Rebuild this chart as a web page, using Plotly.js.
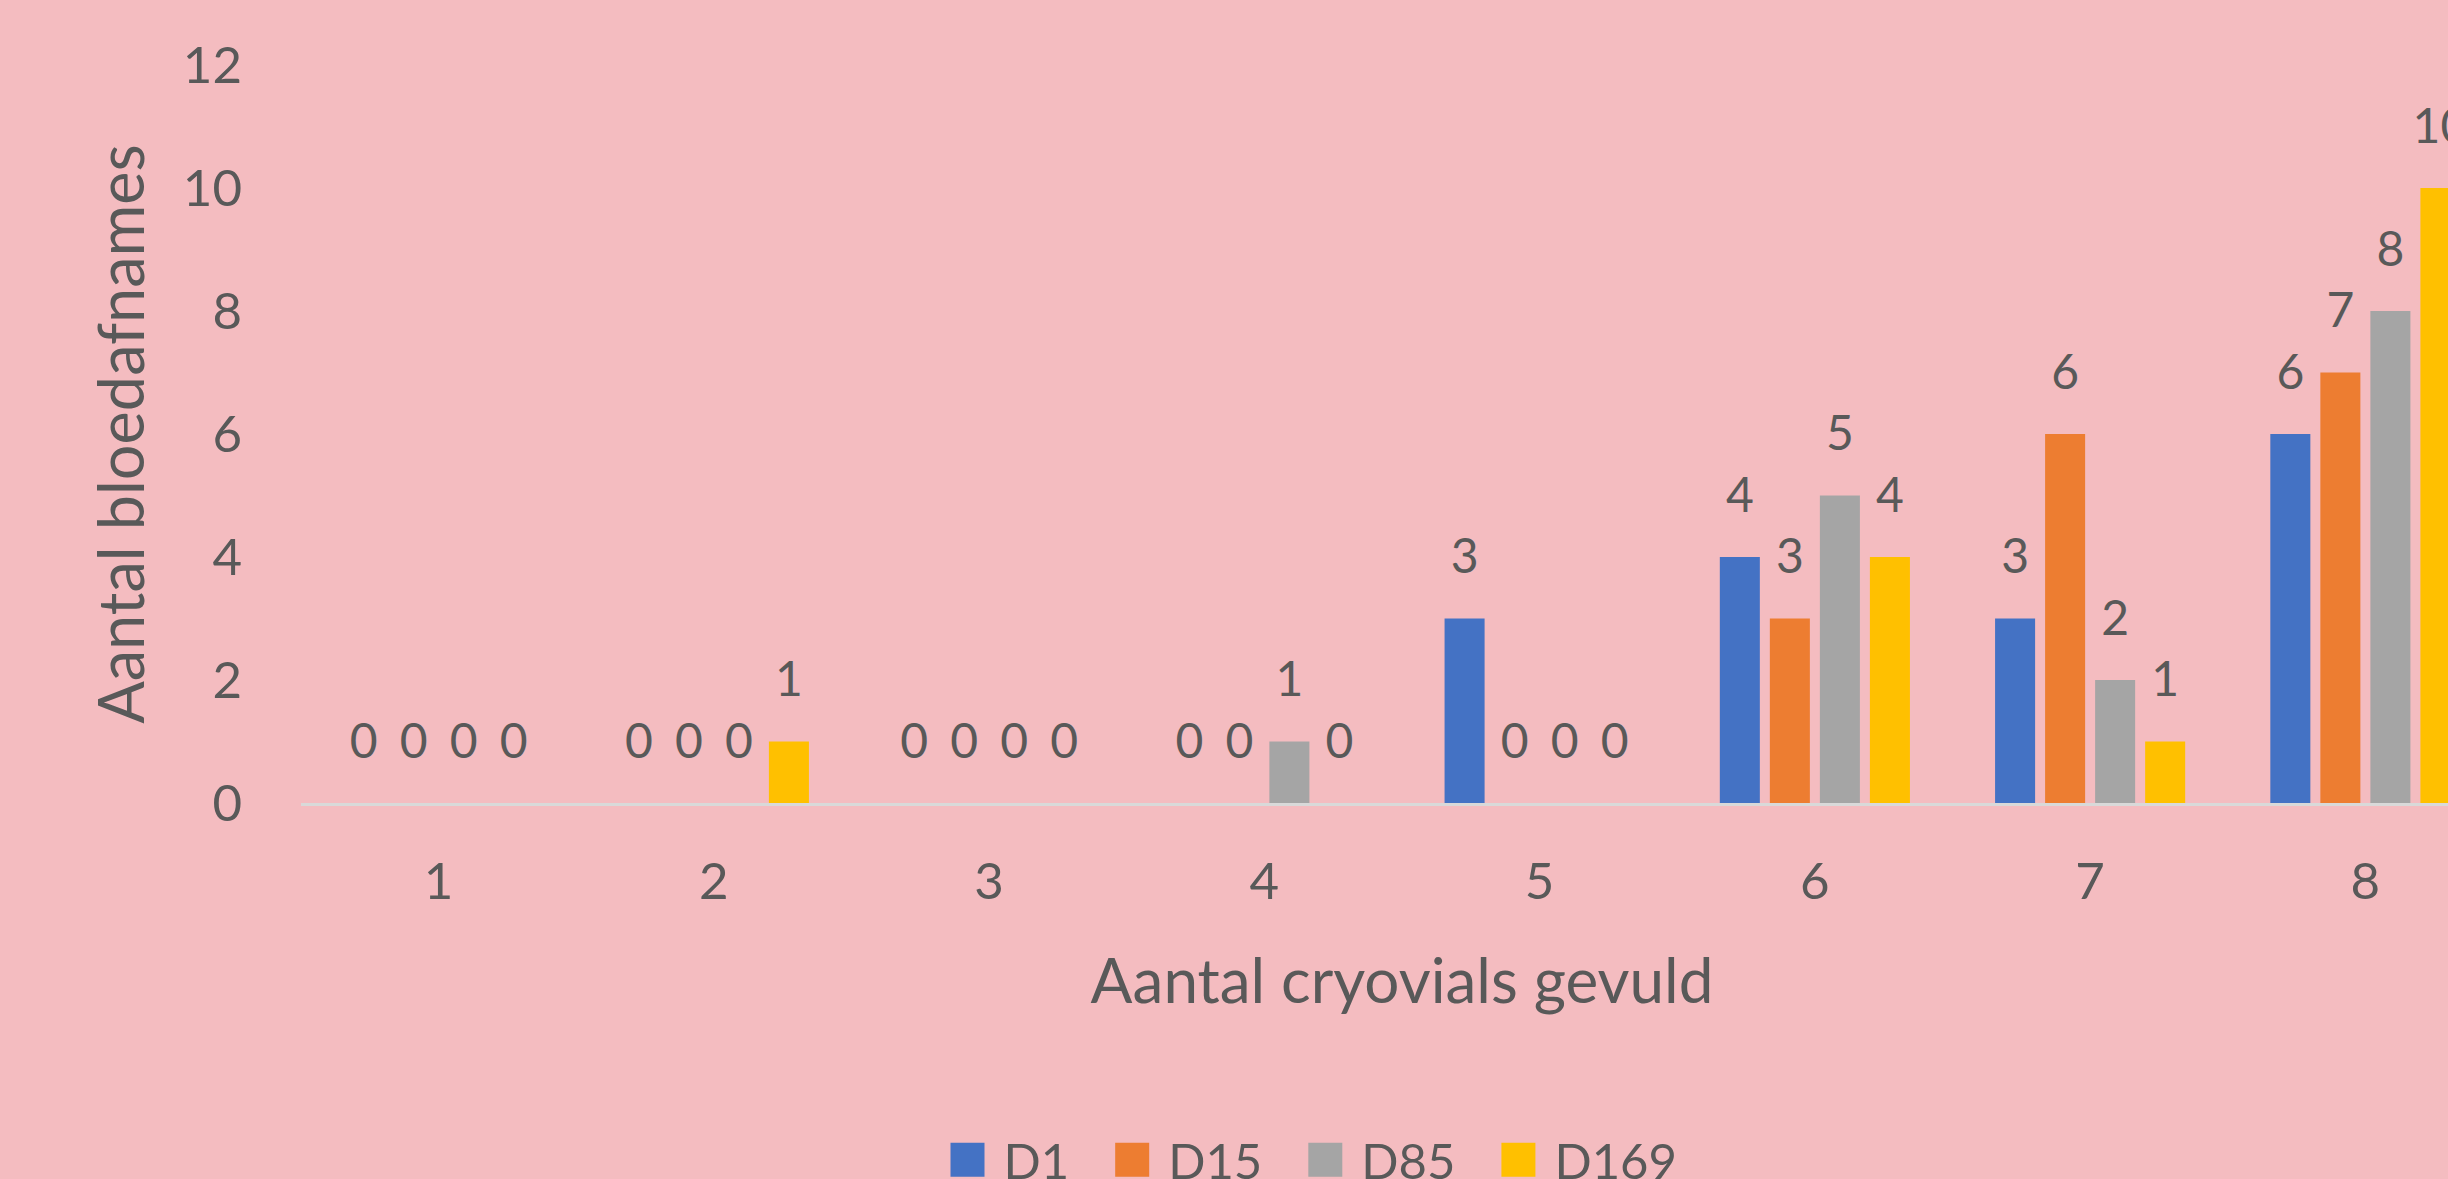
<!DOCTYPE html>
<html>
<head>
<meta charset="utf-8">
<script src="https://cdn.plot.ly/plotly-3.0.1.min.js"></script>
<style>
html, body { margin: 0; padding: 0; overflow: hidden; background: #F4BCC0; }
#chart { width: 2592px; height: 1230px; }
</style>
</head>
<body>
<div id="chart"></div>
<script>
// Data
var categories = ['1', '2', '3', '4', '5', '6', '7', '8'];
var seriesNames = ['D1', 'D15', 'D85', 'D169'];
var valuesD1   = [0, 0, 0, 0, 3, 4, 3, 6];
var valuesD15  = [0, 0, 0, 0, 0, 3, 6, 7];
var valuesD85  = [0, 0, 0, 1, 0, 5, 2, 8];
var valuesD169 = [0, 1, 0, 0, 0, 4, 1, 10];
var yTicks = [0, 2, 4, 6, 8, 10, 12];

var colors = ['#4472C4', '#ED7D31', '#A5A5A5', '#FFC000'];
var allValues = [valuesD1, valuesD15, valuesD85, valuesD169];
var textColor = '#595959';
var fontFamily = 'Lato, "Open Sans", sans-serif';

var traces = allValues.map(function (vals, i) {
  return {
    type: 'bar',
    name: seriesNames[i],
    x: categories,
    y: vals,
    marker: { color: colors[i] },
    // second (blank) line lifts the label above the bar like the original
    texttemplate: '<span style="font-size:48px">%{y}</span><br>\u00a0',
    textposition: 'outside',
    constraintext: 'none',
    cliponaxis: false,
    textfont: { family: fontFamily, size: 28, color: textColor },
    hoverinfo: 'x+y+name'
  };
});

var layout = {
  width: 2592,
  height: 1230,
  paper_bgcolor: '#F4BCC0',
  plot_bgcolor: '#F4BCC0',
  margin: { l: 301, r: 89, t: 65, b: 427, pad: 0 },
  font: { family: fontFamily, color: textColor },
  barmode: 'group',
  bargap: 0.273,
  bargroupgap: 0.2,
  xaxis: {
    type: 'category',
    showgrid: false,
    zeroline: false,
    showline: true,
    linecolor: '#D9D9D9',
    linewidth: 3,
    ticks: '',
    tickfont: { family: fontFamily, size: 51, color: textColor },
    ticklabelstandoff: 32,
    title: { text: 'Aantal cryovials gevuld', font: { family: fontFamily, size: 62, color: textColor }, standoff: 51 },
    automargin: false
  },
  yaxis: {
    range: [0, 12],
    tickvals: yTicks,
    ticktext: yTicks.map(String),
    showgrid: false,
    zeroline: false,
    showline: false,
    ticks: '',
    tickfont: { family: fontFamily, size: 51, color: textColor },
    ticklabelstandoff: 58,
    title: { text: 'Aantal bloedafnames', font: { family: fontFamily, size: 63, color: textColor }, standoff: 17 },
    automargin: false
  },
  showlegend: true,
  legend: {
    orientation: 'h',
    xref: 'container',
    yref: 'container',
    x: 0.5,
    xanchor: 'center',
    y: 0.057,
    yanchor: 'middle',
    itemwidth: 84,
    font: { family: fontFamily, size: 49, color: textColor },
    bgcolor: 'rgba(0,0,0,0)',
    traceorder: 'normal'
  }
};

function enlargeLegendSymbols() {
  var items = document.querySelectorAll('#chart g.legend g.traces');
  items.forEach(function (item) {
    var txt = item.querySelector('text.legendtext');
    var paths = item.querySelectorAll('g.legendpoints path');
    if (!txt || !paths.length) return;
    var tx = parseFloat(txt.getAttribute('x')) || 0;
    paths.forEach(function (p) {
      p.removeAttribute('transform');
      var x0 = tx - 19 - 34;
      p.setAttribute('d', 'M' + x0 + ',-17h34v34h-34Z');
      p.style.strokeWidth = '0px';
    });
  });
}

var gd = document.getElementById('chart');
Plotly.newPlot(gd, traces, layout, { displayModeBar: false, staticPlot: true }).then(function () {
  enlargeLegendSymbols();
  gd.on('plotly_afterplot', enlargeLegendSymbols);
  setTimeout(enlargeLegendSymbols, 50);
  setTimeout(enlargeLegendSymbols, 300);
});
</script>
</body>
</html>
